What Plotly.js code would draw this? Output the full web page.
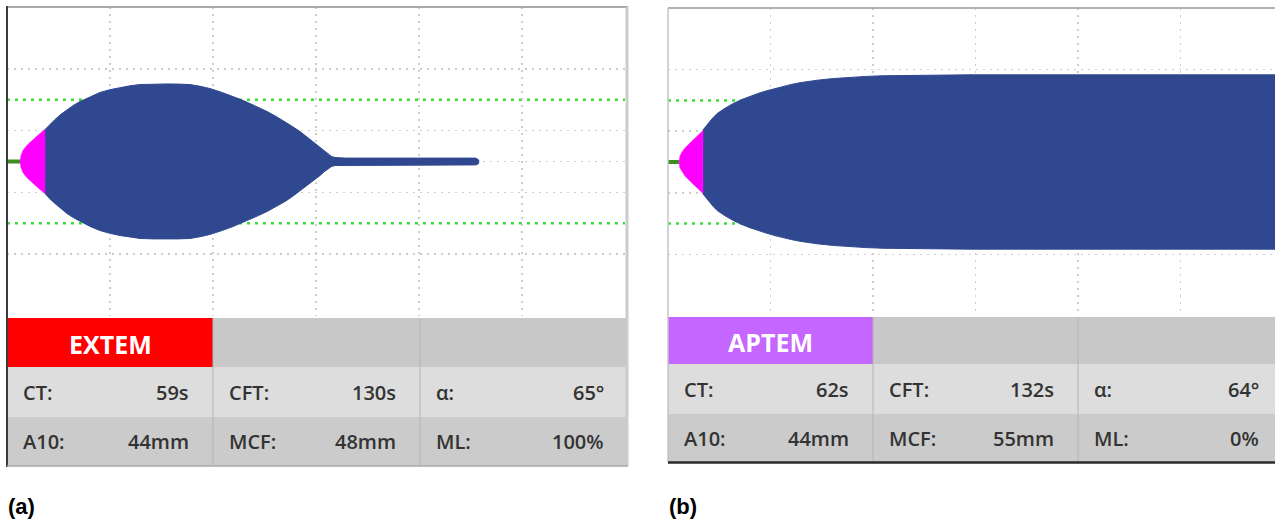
<!DOCTYPE html>
<html>
<head>
<meta charset="utf-8">
<script src="https://cdn.plot.ly/plotly-3.0.1.min.js"></script>
<style>html,body{margin:0;padding:0;background:#fff;overflow:hidden}#chart{width:1275px;height:519px}</style>
</head>
<body>
<div id="chart"></div>
<script>
// ---------- DATA (time in min, amplitude in mm) ----------
const panelNames = ['EXTEM', 'APTEM'];
const panelLetters = ['(a)', '(b)'];
const paramLabels = [['CT:', 'CFT:', 'α:'], ['A10:', 'MCF:', 'ML:']];
const extemValues = [['59s', '130s', '65°'], ['44mm', '48mm', '100%']];
const aptemValues = [['62s', '132s', '64°'], ['44mm', '55mm', '0%']];

// EXTEM trace
const extemBaseT = [0, 1.26];
const extemCftT = [1.26, 1.36, 1.55, 1.84, 2.23, 2.72, 3.20, 3.69];
const extemCftA = [0, 3.9, 7.1, 9.7, 12.3, 15.5, 18.1, 20.7];
const extemClotT = [3.69, 4.17, 4.66, 5.24, 5.83, 6.46, 7.09, 8.06, 9.03, 10.0, 10.97, 11.94, 12.91, 14.2, 15.53, 16.65, 17.77, 18.74, 19.71, 20.82, 21.94, 22.77, 23.59, 24.41, 25.24, 26.12, 26.99, 27.72, 28.45, 28.93, 29.42, 29.9, 30.39, 30.78, 31.17, 31.5, 31.84, 32.3, 32.82, 45.5, 45.7, 45.8];
const extemClotA = [20.7, 24.2, 27.2, 30.6, 33.7, 36.4, 38.8, 42.0, 44.7, 46.5, 47.9, 49.0, 49.8, 50.1, 50.2, 50.1, 49.8, 48.7, 47.2, 44.8, 42.1, 39.9, 37.5, 35.0, 32.4, 29.2, 25.9, 22.6, 19.4, 16.8, 14.2, 11.6, 9.1, 6.7, 4.6, 3.3, 2.6, 2.3, 2.2, 2.2, 1.7, 1.0];

// APTEM trace
const aptemBaseT = [0, 1.07];
const aptemCftT = [1.07, 1.17, 1.37, 1.66, 2.05, 2.54, 2.93, 3.41];
const aptemCftA = [0, 3.9, 6.5, 9.1, 11.7, 14.9, 17.5, 20.4];
const aptemClotT = [3.41, 3.75, 4.10, 4.44, 4.78, 5.56, 6.34, 7.17, 8.00, 8.83, 9.66, 10.44, 11.22, 12.05, 12.88, 13.71, 14.54, 16.15, 17.76, 19.37, 20.98, 22.8, 24.59, 27.0, 29.46, 60];
const aptemClotA = [20.7, 23.8, 26.5, 29.1, 31.4, 34.9, 37.9, 40.5, 42.7, 44.6, 46.3, 47.8, 49.2, 50.4, 51.5, 52.4, 53.1, 54.2, 55.0, 55.6, 56.0, 56.2, 56.3, 56.5, 56.6, 56.6];

// ---------- helpers ----------
const W = 1275, H = 519;
const PX = p => p / W;
const PY = p => 1 - p / H;

function envelope(t, a) {
  const xs = t.concat(t.slice().reverse());
  const ys = a.map(v => v / 2).concat(a.slice().reverse().map(v => -v / 2));
  return {x: xs, y: ys};
}

const BLUE = '#2f4890', MAG = '#ff00ff', GREEN = '#3b8f1e';

function panelTraces(baseT, cftT, cftA, clotT, clotA, xa, ya) {
  const c = envelope(clotT, clotA), m = envelope(cftT, cftA);
  return [
    {type: 'scatter', mode: 'lines', x: baseT, y: baseT.map(() => 0), xaxis: xa, yaxis: ya,
     line: {color: GREEN, width: 4}, hoverinfo: 'skip', showlegend: false},
    {type: 'scatter', mode: 'lines', x: c.x, y: c.y, fill: 'toself', fillcolor: BLUE,
     line: {color: BLUE, width: 1}, xaxis: xa, yaxis: ya, hoverinfo: 'skip', showlegend: false},
    {type: 'scatter', mode: 'lines', x: m.x, y: m.y, fill: 'toself', fillcolor: MAG,
     line: {color: MAG, width: 0.5}, xaxis: xa, yaxis: ya, hoverinfo: 'skip', showlegend: false}
  ];
}

const data = [].concat(
  panelTraces(extemBaseT, extemCftT, extemCftA, extemClotT, extemClotA, 'x', 'y'),
  panelTraces(aptemBaseT, aptemCftT, aptemCftA, aptemClotT, aptemClotA, 'x2', 'y2')
);

const gridX = {showgrid: true, gridcolor: '#cdcdcd', gridwidth: 1.5, griddash: '2px,5px', dtick: 10, tick0: 0,
  zeroline: false, showticklabels: false, ticks: '', showline: false, fixedrange: true};
const gridY = {showgrid: true, gridcolor: '#cdcdcd', gridwidth: 1.5, griddash: '2px,5px', tickmode: 'array',
  tickvals: [-30, -10, 0, 10, 30], range: [-50, 50], zeroline: false, showticklabels: false, ticks: '', showline: false, fixedrange: true};

// panel geometry (pixels)
const panels = [
  {left: 7, right: 628, cols: [7, 213, 420, 628], rows: [318, 367, 417, 466], top: 7, head: '#ff0000', values: extemValues},
  {left: 668, right: 1283, cols: [668, 873, 1078, 1283], rows: [317, 364, 414, 462], top: 8, head: '#c466ff', values: aptemValues}
];

const shapes = [];
const annotations = [];
function rect(x0, y0, x1, y1, color) {
  shapes.push({type: 'rect', xref: 'paper', yref: 'paper', x0: PX(x0), x1: PX(x1), y0: PY(y1), y1: PY(y0),
    fillcolor: color, line: {width: 0}, layer: 'above'});
}
function line(x0, y0, x1, y1, color, w) {
  shapes.push({type: 'line', xref: 'paper', yref: 'paper', x0: PX(x0), x1: PX(x1), y0: PY(y0), y1: PY(y1),
    line: {color: color, width: w}, layer: 'above'});
}
function text(x, y, s, anchor, size, color, weight, family) {
  annotations.push({xref: 'paper', yref: 'paper', x: PX(x), y: PY(y), text: s,
    showarrow: false, xanchor: anchor, yanchor: 'middle', borderpad: 0,
    font: {family: family || 'Open Sans, Noto Sans, sans-serif', size: size, color: color, weight: weight}});
}

panels.forEach((p, i) => {
  const [c0, c1, c2, c3] = p.cols;
  const [r0, r1, r2, r3] = p.rows;
  // green +-20 mm reference lines
  [20, -20].forEach(v => shapes.push({type: 'line', xref: i === 0 ? 'x' : 'x2', yref: i === 0 ? 'y' : 'y2',
    x0: 0, x1: 60, y0: v, y1: v, line: {color: '#3ddc3d', width: 2.5, dash: '3px,5px'}, layer: 'below'}));
  // table
  rect(c0, r0, c1, r1, p.head);
  rect(c1, r0, c3, r1, '#c8c8c8');
  rect(c0, r1, c3, r2, '#dddddd');
  rect(c0, r2, c3, r3, '#cbcbcb');
  line(c1, r0, c1, r3, '#b4b4b4', 1);
  line(c2, r0, c2, r3, '#b4b4b4', 1);
  text((c0 + c1) / 2, (r0 + r1) / 2 + 1, panelNames[i], 'center', 25, '#ffffff', 700);
  [0, 1].forEach(r => {
    const yc = r === 0 ? (r1 + r2) / 2 : (r2 + r3) / 2;
    [0, 1, 2].forEach(k => {
      const cl = p.cols[k], cr = p.cols[k + 1];
      text(cl + 15, yc, paramLabels[r][k], 'left', 20, '#333333', 600);
      text(cr - 23, yc, p.values[r][k], 'right', 20, '#333333', 600);
    });
  });
  // letter label
  text(p.left, 506, panelLetters[i], 'left', 22, '#000000', 700, 'Liberation Sans, Arial, sans-serif');
});

// panel borders
line(7, 7, 628, 7, '#8c8c8c', 1.5);
line(7, 6, 7, 467, '#3c3c3c', 2);
line(627, 7, 627, 466, '#cccccc', 3);
line(7, 466, 628, 466, '#a8a8a8', 1.5);
line(668, 8, 1275, 8, '#9a9a9a', 1.5);
line(668, 8, 668, 462, '#c4c4c4', 1.5);
line(668, 462.5, 1275, 462.5, '#2a2a2a', 2.5);

const layout = {
  width: W, height: H,
  margin: {l: 0, r: 0, t: 0, b: 0, pad: 0},
  paper_bgcolor: '#ffffff', plot_bgcolor: '#ffffff',
  showlegend: false,
  xaxis: Object.assign({}, gridX, {domain: [PX(7), PX(625)], range: [0, 60], anchor: 'y'}),
  yaxis: Object.assign({}, gridY, {domain: [PY(316), PY(7)], anchor: 'x'}),
  xaxis2: Object.assign({}, gridX, {domain: [PX(668), 1], range: [0, 60 * (1275 - 668) / 615], anchor: 'y2'}),
  yaxis2: Object.assign({}, gridY, {domain: [PY(316), PY(8)], anchor: 'x2'}),
  shapes: shapes,
  annotations: annotations
};

Plotly.newPlot('chart', data, layout, {staticPlot: true, displayModeBar: false});
</script>
</body>
</html>
